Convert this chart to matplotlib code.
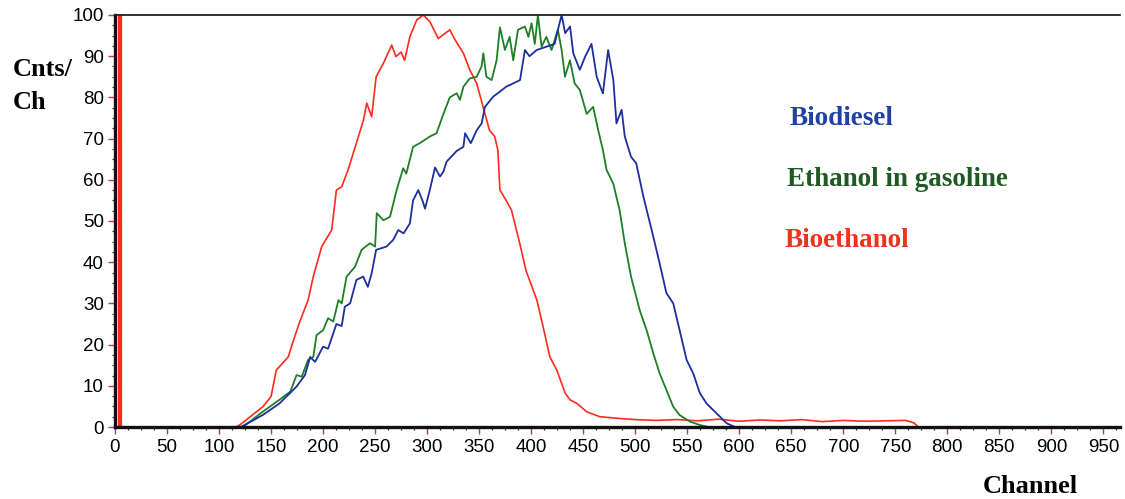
import matplotlib
matplotlib.use("Agg")
import matplotlib.pyplot as plt
from matplotlib.ticker import MultipleLocator

# ---------------- data ----------------
biodiesel_ch = [0, 121, 142, 158, 174.5, 182.6, 187.6, 192.3, 200, 204.8, 212.8, 217.9, 220.9, 226,
                232, 238.6, 243, 246.7, 251, 261, 267.3, 272.3, 277.4, 283.4, 286.5, 291.5, 295.5,
                298, 302.6, 307.6, 312.4, 315.7, 318.7, 328.4, 334.9, 336.5, 342, 347.6, 352.4,
                355.6, 363.6, 370, 376, 382.8, 389.3, 394, 398.4, 405.3, 414.6, 422.6, 425.7,
                429.3, 432.7, 437.4, 440.5, 446.8, 451.9, 458, 463, 467.7, 469, 474, 479, 482,
                487, 490, 496, 501, 507.9, 517.4, 523.5, 530, 536.6, 542.7, 549.4, 555.8, 562.2,
                568.6, 575, 581.5, 588, 596, 966]
biodiesel_val = [0, 0, 2.9, 5.7, 9.8, 12.6, 17, 15.8, 19.5, 19, 25, 24.5, 29.2, 30,
                 35.7, 36.5, 34, 37.3, 43, 43.8, 45.4, 47.8, 47, 49.4, 55, 57.5, 55,
                 53, 57.5, 63, 60.8, 62, 64.4, 67, 68, 71.3, 68.9, 72, 73.7,
                 77.7, 80.2, 81.4, 82.6, 83.4, 84.2, 91.5, 90, 91.5, 92.3, 93, 96.4,
                 100, 95.6, 97.2, 90.7, 86.7, 89.9, 93, 85, 81.8, 81, 91.5, 84.2, 73.7,
                 77, 70.5, 65.6, 64, 55.9, 46.2, 39.7, 32.5, 30, 23.5, 16.3, 13, 8.2,
                 5.7, 4.1, 2.5, 0.9, 0, 0]

ethanol_ch = [0, 123, 142, 158, 168.5, 174.5, 179.5, 185.6, 190.6, 193.7, 200, 204.8, 209.8, 214.8,
              217.9, 222.6, 230.7, 237, 245, 250, 251.6, 258, 264.3, 270.7, 277, 280, 286.5, 293,
              302.6, 309, 315.7, 321.8, 328.4, 331.6, 334.9, 341, 347.6, 352.3, 354, 357, 362,
              366.8, 370, 374.8, 379.3, 382.8, 387.3, 394, 397.4, 400.4, 403.5, 406.5, 410,
              414.6, 419.6, 425.7, 429.3, 432.5, 437.3, 441.8, 446.8, 453.4, 459.6, 464.5, 469,
              472.5, 479, 485, 490, 496, 504.3, 511, 517.4, 523.5, 530, 536.6, 542.7, 552.7,
              562, 570, 966]
ethanol_val = [0, 0, 3.7, 6.6, 8.6, 12.6, 12.2, 16.3, 17, 22.3, 23.5, 26.4, 25.6, 30.8,
               30, 36.5, 38.9, 43, 44.6, 43.8, 51.9, 50.2, 51, 57.5, 62.8, 61.5, 68, 68.9,
               70.5, 71.3, 76, 80, 81, 79.4, 82.6, 84.6, 85, 87.5, 90.7, 85, 84.2,
               89, 97, 91.5, 94.7, 89, 96.4, 97.2, 94.7, 98, 93, 100, 92.3,
               94.7, 91.5, 96.4, 91.5, 85, 89, 83.4, 81.8, 76, 77.7, 72, 67.2,
               62.4, 59, 52.7, 44.6, 36.5, 28.4, 23.5, 17.9, 13, 9, 4.9, 2.9, 1.3,
               0.5, 0, 0]

bioethanol_ch = [0, 116, 120, 142, 150, 155, 166.5, 171.5, 177.5, 185.6, 190.6, 198.7, 208.3, 212.8,
                 217.9, 224, 232, 238.8, 242, 246.7, 251, 258, 266, 270, 275, 278.4, 283.4,
                 290, 296.3, 302.6, 310.7, 321.8, 326.8, 334.9, 341, 347.7, 354, 360, 365,
                 368, 370, 376, 381, 389, 395, 405.5, 411.5, 418, 424.7, 432.7, 437.4, 444,
                 453.4, 466, 488, 500, 520, 540, 560, 580, 600, 620, 640, 660, 680, 700,
                 720, 740, 760, 768, 772, 966]
bioethanol_val = [0, 0, 0.5, 4.9, 7.4, 13.8, 17, 21, 25.5, 30.8, 36.5, 43.8, 47.8, 57.5,
                  58.3, 62.4, 68.9, 74.5, 78.6, 75.3, 85, 88.3, 92.7, 89.9, 91, 89, 94.7,
                  98.8, 100, 98.4, 94.3, 96.4, 94, 90.7, 86.7, 83.4, 77.5, 72, 70.5,
                  67.2, 57.5, 55, 52.7, 44.6, 38, 30.8, 24.3, 17, 13.8, 8.2, 6.6, 5.7,
                  3.7, 2.5, 2.0, 1.8, 1.6, 1.8, 1.5, 1.9, 1.4, 1.7, 1.5, 1.8, 1.3, 1.6,
                  1.4, 1.5, 1.6, 1.0, 0, 0]
bioethanol_spike_ch = 4.8
bioethanol_spike_val = 100

series_names = ["Biodiesel", "Ethanol in gasoline", "Bioethanol"]
x_ticks = list(range(0, 951, 50))
y_ticks = list(range(0, 101, 10))

# ---------------- styling ----------------
W, H = 1125, 499
fig = plt.figure(figsize=(W / 100, H / 100), dpi=100)
fig.patch.set_facecolor("white")

left_px, right_px, top_px, bottom_px = 115, 1120, 15, 427
ax = fig.add_axes([left_px / W, 1 - bottom_px / H,
                   (right_px - left_px) / W, (bottom_px - top_px) / H])

col_blue = "#1c2f9c"
col_green = "#1d7f26"
col_red = "#ff2b1c"

ax.plot(bioethanol_ch, bioethanol_val, color=col_red, lw=1.2, zorder=3)
ax.plot(ethanol_ch, ethanol_val, color=col_green, lw=1.3, zorder=4)
ax.plot(biodiesel_ch, biodiesel_val, color=col_blue, lw=1.3, zorder=5)
ax.vlines([bioethanol_spike_ch], 0, [bioethanol_spike_val], color=col_red, lw=3, zorder=6)

ax.set_xlim(0, 966)
ax.set_ylim(0, 100)

ax.spines["right"].set_visible(False)
for s in ["left", "bottom"]:
    ax.spines[s].set_linewidth(2.4)
    ax.spines[s].set_color("#111111")
    ax.spines[s].set_zorder(8)
ax.spines["top"].set_linewidth(1.3)
ax.spines["top"].set_color("#222222")
ax.spines["top"].set_zorder(8)

ax.set_xticks(x_ticks)
ax.set_yticks(y_ticks)
ax.xaxis.set_minor_locator(MultipleLocator(12.5))
ax.yaxis.set_minor_locator(MultipleLocator(2.5))

tick_font = dict(family=["Liberation Sans", "DejaVu Sans"], size=13.5)
ax.set_xticklabels([str(v) for v in x_ticks], **tick_font)
ax.set_yticklabels([str(v) for v in y_ticks], **tick_font)
ax.tick_params(axis="both", which="major", direction="out", length=5, width=1,
               color="#c8306e", pad=4)
ax.tick_params(axis="both", which="minor", direction="out", length=2.5, width=0.9,
               color="#333333")
ax.tick_params(axis="y", which="major", pad=3)

serif = ["Liberation Serif", "DejaVu Serif"]
fig.text(13 / W, 1 - 76 / H, "Cnts/", family=serif, weight="bold", size=19,
         ha="left", va="baseline")
fig.text(13 / W, 1 - 109 / H, "Ch", family=serif, weight="bold", size=19,
         ha="left", va="baseline")
fig.text(983 / W, 1 - 493 / H, "Channel", family=serif, weight="bold", size=19,
         ha="left", va="baseline")

legend_colors = ["#2142a3", "#1e5a22", "#f0321e"]
legend_pos = [(790, 125), (787, 186), (785, 247)]
for name, c, (px, py) in zip(series_names, legend_colors, legend_pos):
    fig.text(px / W, 1 - py / H, name, family=serif, weight="bold", size=19.5,
             color=c, ha="left", va="baseline")

fig.savefig("out.png", dpi=100, facecolor="white")
